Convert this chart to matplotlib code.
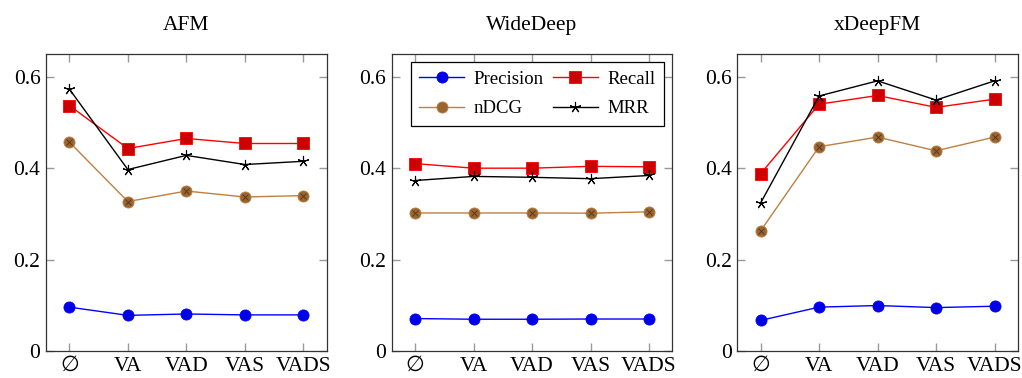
import matplotlib
matplotlib.use("Agg")
import matplotlib.pyplot as plt

plt.rcParams["font.family"] = ["Liberation Serif", "DejaVu Serif", "DejaVu Sans"]

features = ["\u2205", "VA", "VAD", "VAS", "VADS"]
models = ["AFM", "WideDeep", "xDeepFM"]

afm_precision = [0.096, 0.078, 0.081, 0.079, 0.079]
afm_recall = [0.537, 0.443, 0.465, 0.454, 0.454]
afm_ndcg = [0.457, 0.327, 0.350, 0.337, 0.340]
afm_mrr = [0.573, 0.397, 0.428, 0.408, 0.415]

wd_precision = [0.071, 0.0695, 0.0695, 0.070, 0.070]
wd_recall = [0.410, 0.400, 0.400, 0.404, 0.403]
wd_ndcg = [0.302, 0.302, 0.302, 0.3015, 0.3045]
wd_mrr = [0.373, 0.382, 0.380, 0.377, 0.384]

xd_precision = [0.067, 0.096, 0.0995, 0.095, 0.098]
xd_recall = [0.388, 0.540, 0.559, 0.533, 0.551]
xd_ndcg = [0.263, 0.447, 0.468, 0.438, 0.468]
xd_mrr = [0.324, 0.558, 0.591, 0.549, 0.591]

results = {
    "AFM": (afm_precision, afm_recall, afm_ndcg, afm_mrr),
    "WideDeep": (wd_precision, wd_recall, wd_ndcg, wd_mrr),
    "xDeepFM": (xd_precision, xd_recall, xd_ndcg, xd_mrr),
}

brown = (0.75, 0.5, 0.25)
brown_dark = (0.6, 0.4, 0.2)

fig = plt.figure(figsize=(10.22, 3.78), dpi=100)
lefts = [0.045, 0.3833, 0.7214]
width = 0.2746

for i, name in enumerate(models):
    ax = fig.add_axes([lefts[i], 0.0714, width, 0.786])
    prec, rec, ndcg, mrr = results[name]
    x = list(range(len(features)))

    hp, = ax.plot(x, prec, color="blue", lw=1, marker="o", ms=8,
                  mfc=(0, 0, 0.9), mec="blue", mew=0.6, label="Precision")
    hr, = ax.plot(x, rec, color="red", lw=1, marker="s", ms=8,
                  mfc=(0.8, 0, 0), mec="red", mew=0.6, label="Recall")
    # nDCG: circle with a cross (otimes)
    hn, = ax.plot(x, ndcg, color=brown, lw=1, marker="o", ms=8,
                  mfc=brown_dark, mec=brown, mew=0.6, label="nDCG")
    ax.plot(x, ndcg, ls="none", marker="x", ms=5, mec=(0.35, 0.22, 0.1), mew=0.7)
    hm, = ax.plot(x, mrr, color="black", lw=1, marker=(5, 2, 0), ms=8,
                  mec="black", mew=0.8, label="MRR")

    ax.set_xlim(-0.4, 4.4)
    ax.set_ylim(0, 0.65)
    ax.set_xticks(x)
    ax.set_xticklabels(features)
    ax.set_yticks([0, 0.2, 0.4, 0.6])
    ax.set_yticklabels(["0", "0.2", "0.4", "0.6"])
    ax.tick_params(direction="in", length=6, color="#999999", width=1,
                   top=True, right=True, labelsize=15.5, pad=4)
    for sp in ax.spines.values():
        sp.set_color("#333333")
        sp.set_linewidth(0.9)
    ax.set_title(name, fontsize=15.5, pad=17)

    if name == "WideDeep":
        # column-major fill -> rows: Precision/Recall, nDCG/MRR
        leg = ax.legend([hp, hn, hr, hm], ["Precision", "nDCG", "Recall", "MRR"],
                        ncol=2, loc="upper right", fontsize=13.5,
                        bbox_to_anchor=(1.0, 1.0), borderaxespad=0.45,
                        frameon=True, fancybox=False, edgecolor="black",
                        framealpha=1, handlelength=2.4, columnspacing=0.5,
                        handletextpad=0.5, borderpad=0.45, labelspacing=0.65)
        leg.get_frame().set_linewidth(0.9)

fig.savefig("out.png", dpi=100)
